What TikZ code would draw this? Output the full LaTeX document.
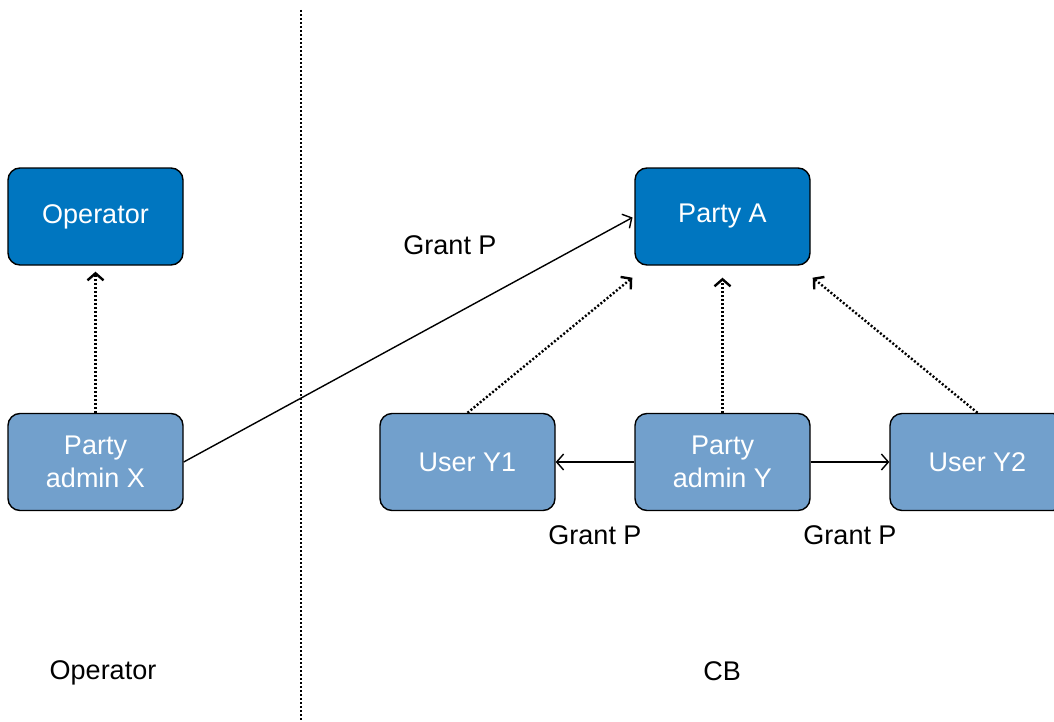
\documentclass[tikz,border=0pt]{standalone}
\usepackage{fontspec}
\setmainfont{Liberation Sans}
\usetikzlibrary{arrows.meta, positioning, calc}
\definecolor{partyblue}{RGB}{0,118,192}
\definecolor{adminblue}{RGB}{114,160,204}

\tikzset{
  partybox/.style={rounded corners=6pt, fill=partyblue, draw=black, line width=0.7pt,
    minimum width=87.5pt, minimum height=48.5pt, text=white, align=center,
    font=\fontsize{13.5}{16.5}\selectfont},
  userbox/.style={partybox, fill=adminblue},
  grantline/.style={-{Straight Barb[length=3.5pt,width=8pt]}, line width=0.7pt},
  viewline/.style={grantline, line width=1.2pt, dash pattern=on 1pt off 1pt},
  caption/.style={font=\fontsize{13.5}{16.5}\selectfont},
}

\begin{document}
\begin{tikzpicture}[x=0.5pt, y=-0.5pt]
\useasboundingbox (0,0) rectangle (1054,722);

% divider between the two sides
\draw[line width=0.9pt, dash pattern=on 1pt off 1pt] (301,10) -- (301,722);

\node[partybox] (op) at (95.5,216.5) {Operator};
\node[partybox] (pa) at (722.5,216.5) {Party A};
\node[userbox] (adx) at (95.5,462) {Party\\admin X};
\node[userbox] (ady) at (722.5,462) {Party\\admin Y};
\node[userbox] (uy1) at (467.5,462) {User Y1};
\node[userbox] (uy2) at (977.5,462) {User Y2};

\coordinate (paleft) at ($(pa.south west)+(-2,12)$);
\coordinate (paright) at ($(pa.south east)+(2,12)$);

\draw[viewline, shorten >=3pt] (adx.north) -- (op.south);
\draw[grantline, shorten >=1pt] (adx.east) -- (pa.west);
\draw[viewline] (uy1.north) -- (paleft);
\draw[viewline, shorten >=6pt] (ady.north) -- (pa.south);
\draw[viewline] (uy2.north) -- (paright);
\draw[grantline] (ady.west) -- (uy1.east);
\draw[grantline] (ady.east) -- (uy2.west);

\node[caption] (g1) at (450,245) {Grant P};
\node[caption] (g2) at (595,535) {Grant P};
\node[caption] (g3) at (850,535) {Grant P};
\node[caption] (lop) at (103,673) {Operator};
\node[caption] (lcb) at (722,671) {CB};
\end{tikzpicture}
\end{document}
